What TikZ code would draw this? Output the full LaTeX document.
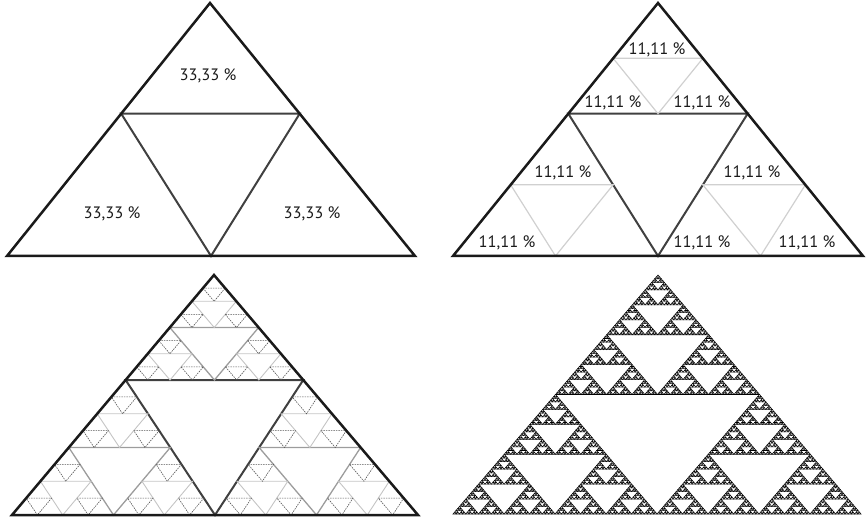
\documentclass[tikz,border=0pt]{standalone}
\usepackage{fontspec}
\setmainfont{PT Sans}
\definecolor{ink}{HTML}{1A1A1A}
\definecolor{cutone}{HTML}{404040}
\definecolor{cuttwo}{HTML}{9C9C9C}
\definecolor{cutthree}{HTML}{C4C4C4}
\definecolor{cutfour}{HTML}{555555}
\definecolor{faint}{HTML}{D0D0D0}

% #1 style prefix, #2 level, #3 depth, then the corners A, B (base) and C (apex)
\newcommand\firstcut{0.5625}
\newcommand\sierp[9]{%
  \ifnum#2>#3\relax\else
  \begingroup
    \ifnum#2=1 \let\cutr\firstcut\else\def\cutr{0.5}\fi
    \pgfmathsetmacro\px{#4+\cutr*(#8-#4)}%
    \pgfmathsetmacro\py{#5+\cutr*(#9-#5)}%
    \pgfmathsetmacro\qx{#6+\cutr*(#8-#6)}%
    \pgfmathsetmacro\qy{#7+\cutr*(#9-#7)}%
    \pgfmathsetmacro\rx{(#4+#6)/2}%
    \pgfmathsetmacro\ry{(#5+#7)/2}%
    \draw[#1#2] (\px,\py) -- (\qx,\qy) -- (\rx,\ry) -- cycle;
    \pgfmathtruncatemacro\nxt{#2+1}%
    \edef\next{\noexpand\sierp{#1}{\nxt}{#3}{#4}{#5}{\rx}{\ry}{\px}{\py}}\next
    \edef\next{\noexpand\sierp{#1}{\nxt}{#3}{\rx}{\ry}{#6}{#7}{\qx}{\qy}}\next
    \edef\next{\noexpand\sierp{#1}{\nxt}{#3}{\px}{\py}{\qx}{\qy}{#8}{#9}}\next
  \endgroup
  \fi}

\begin{document}
\begin{tikzpicture}[
  x=1pt, y=-1pt,
  outer/.style={draw=ink, line width=2.5pt},
  cut/.style={draw=cutone, line width=2pt},
  tl1/.style={cut},
  tr1/.style={cut},
  tr2/.style={draw=faint, line width=1.2pt},
  bl1/.style={cut},
  bl2/.style={draw=cuttwo, line width=1.3pt},
  bl3/.style={draw=cutthree, line width=0.9pt},
  bl4/.style={draw=cutfour, line width=0.6pt, dash pattern=on 1.5pt off 1pt},
  fine/.style={draw=black, line width=0.55pt},
  br1/.style={fine}, br2/.style={fine}, br3/.style={fine},
  br4/.style={fine}, br5/.style={fine}, br6/.style={fine}, br7/.style={fine},
  pct/.style={font=\fontsize{16.5}{19}\selectfont, text=ink, inner sep=0pt},
]
\useasboundingbox (0,0) rectangle (867,518);

\sierp{tl}{1}{1}{7}{256}{415}{256}{210}{3}
\draw[outer] (7,256) -- (415,256) -- (210,3) -- cycle;

\sierp{tr}{1}{2}{453}{256}{863}{256}{658}{3}
\draw[outer] (453,256) -- (863,256) -- (658,3) -- cycle;

\sierp{bl}{1}{4}{12}{515}{418}{515}{214}{275}
\draw[outer] (12,515) -- (418,515) -- (214,275) -- cycle;

\renewcommand\firstcut{0.5}
\sierp{br}{1}{7}{453}{514}{861}{514}{658}{275}
\draw[fine] (453,514) -- (861,514) -- (658,275) -- cycle;

\node[pct] (third-top) at (208,76) {33,33 \%};
\node[pct] (third-left) at (112,214) {33,33 \%};
\node[pct] (third-right) at (312,214) {33,33 \%};

\node[pct] (ninth-1) at (657,50) {11,11 \%};
\node[pct] (ninth-2) at (613,103) {11,11 \%};
\node[pct] (ninth-3) at (702,103) {11,11 \%};
\node[pct] (ninth-4) at (563,173) {11,11 \%};
\node[pct] (ninth-5) at (752,173) {11,11 \%};
\node[pct] (ninth-6) at (507,243) {11,11 \%};
\node[pct] (ninth-7) at (702,243) {11,11 \%};
\node[pct] (ninth-8) at (807,243) {11,11 \%};

\end{tikzpicture}
\end{document}
